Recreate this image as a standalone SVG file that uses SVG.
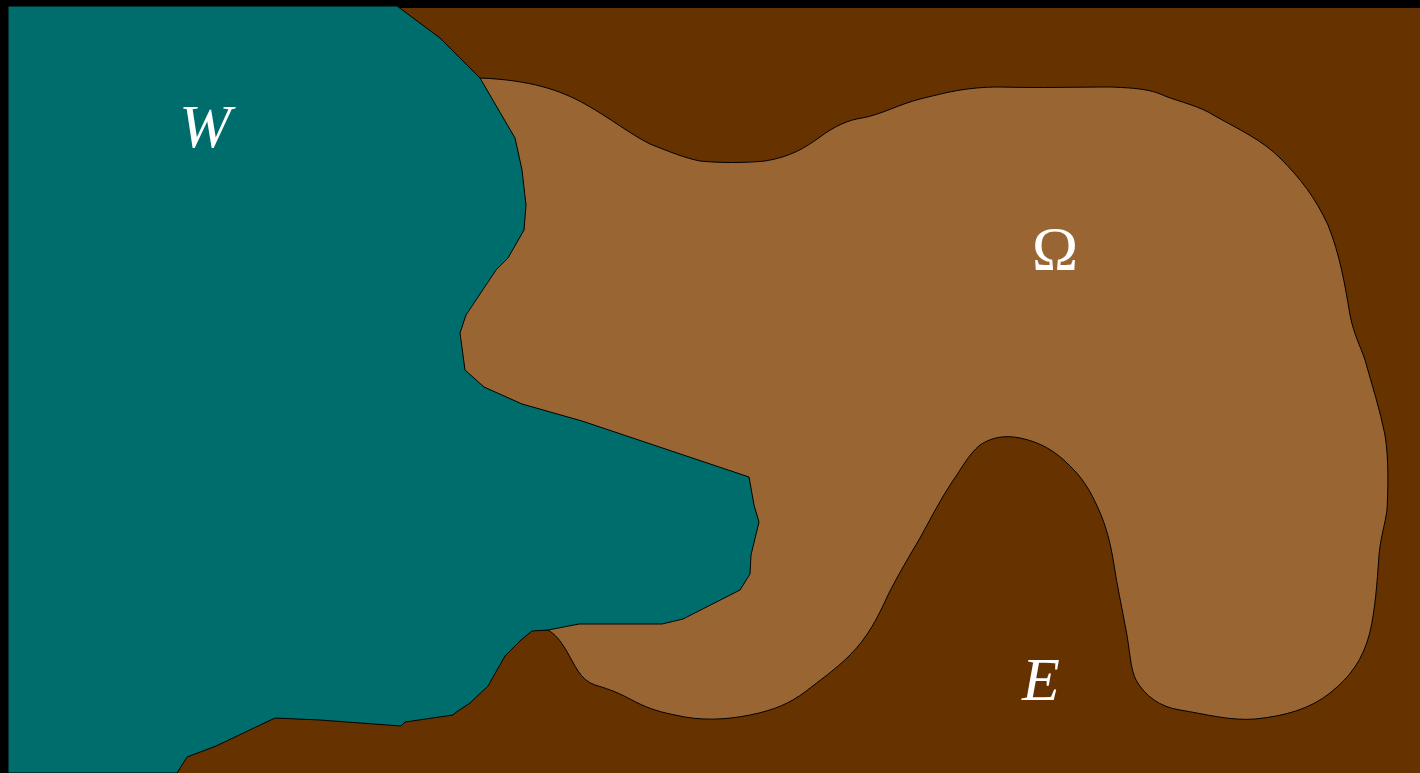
<svg xmlns="http://www.w3.org/2000/svg" width="1420" height="773" viewBox="0 0 1420 773">
<style>
.reg{stroke:#000;stroke-width:1;stroke-linejoin:round}
.lbl{font-family:"Liberation Serif","Times New Roman",serif;font-size:62px;fill:#fff;text-anchor:middle}
</style>
<rect x="0" y="0" width="1420" height="773" fill="#000"/>
<g id="E">
<rect x="8" y="8" width="1412" height="765" fill="#663300"/>
<text class="lbl" x="1041" y="700" font-style="italic">E</text>
</g>
<g id="Omega">
<path class="reg" fill="#996633" d="M480,78 C530,80 560,90 585,104 C610,118 630,134 650,144 C670,152 685,158 700,161 C720,163 745,163 765,161 C790,157 805,148 820,137 C835,126 848,120 862,118 C880,115 900,104 920,99 C945,93 965,87 1000,87 C1040,88 1080,87 1110,87 C1140,88 1152,90 1165,96 C1180,102 1200,106 1215,116 C1240,130 1262,140 1280,158 C1300,178 1315,197 1328,225 C1340,255 1345,285 1350,315 C1354,335 1360,345 1365,360 C1372,385 1380,410 1385,435 C1389,460 1388,490 1387,510 C1385,525 1381,535 1379,555 C1377,585 1375,610 1370,632 C1363,660 1350,677 1330,693 C1310,709 1285,716 1255,719 C1230,721 1205,714 1180,710 C1160,707 1145,696 1136,680 C1130,668 1130,650 1126,630 C1122,608 1117,585 1114,565 C1111,545 1106,525 1098,508 C1090,490 1082,477 1068,464 C1055,451 1040,442 1020,438 C1005,435 992,437 980,445 C968,455 962,468 952,482 C940,500 930,520 920,538 C910,555 898,575 888,595 C878,617 868,637 850,655 C835,670 820,680 805,692 C790,703 775,710 750,715 C725,720 700,721 675,715 C655,711 645,707 630,699 C615,691 605,688 595,685 C580,680 575,665 566,650 C560,640 555,634 548,630 L400,630 L400,78 Z"/>
<text class="lbl" x="1055" y="269">Ω</text>
</g>
<g id="W">
<path class="reg" fill="#006d6d" d="M8,6 L397,6 L440,38 L480,78 L515,138 L522,170 L526,205 L524,230 L508,258 L496,270 L466,315 L460,333 L465,370 L484,387 L522,404 L582,421 L749,477 L754,505 L759,522 L751,555 L750,574 L740,590 L683,619 L662,624 L579,624 L548,630 L532,631 L521,640 L505,656 L488,686 L470,703 L455,713 L453,715 L405,722 L401,726 L320,720 L275,718 L216,746 L187,757 L177,773 L8,773 Z"/>
<text class="lbl" x="205" y="147" font-style="italic">W</text>
</g>
<g id="connectors"></g>
</svg>
